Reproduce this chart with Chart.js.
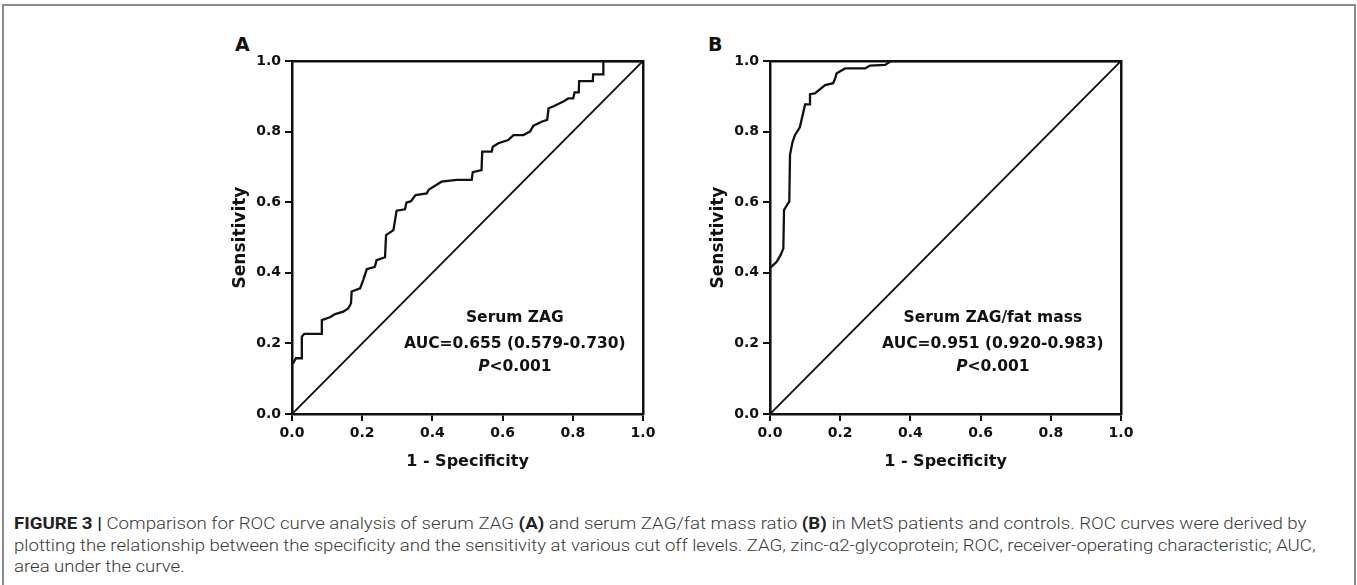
<!DOCTYPE html>
<html>
<head>
<meta charset="utf-8">
<script src="https://cdn.jsdelivr.net/npm/chart.js@4.4.0/dist/chart.umd.min.js"></script>
<style>
html,body{margin:0;padding:0;background:#fff;width:1357px;height:585px;overflow:hidden;position:relative}
.frame{position:absolute;left:2px;top:4px;width:1354px;height:640px;box-sizing:border-box;border:2px solid #8c8c8c}
.wrap{position:absolute;width:435px;height:451px;top:20px}
#wrapA{left:228px}
#wrapB{left:706px}
.panel{position:absolute;font:bold 19px "DejaVu Sans";color:#111;line-height:22px;top:33px}
.cap{position:absolute;left:14px;white-space:nowrap;font-family:Roboto,"Liberation Sans",sans-serif;font-weight:300;font-size:17px;line-height:21.5px;color:#3a3a3a;transform-origin:0 50%}
.cap b{font-weight:700;color:#222}
</style>
</head>
<body>
<div class="frame"></div>
<div class="panel" style="left:235px">A</div>
<div class="panel" style="left:708px">B</div>
<div class="wrap" id="wrapA"><canvas id="chartA" width="435" height="451"></canvas></div>
<div class="wrap" id="wrapB"><canvas id="chartB" width="435" height="451"></canvas></div>
<div class="cap" id="cap1" style="top:513px"><b>FIGURE 3 |</b> Comparison for ROC curve analysis of serum ZAG <b>(A)</b> and serum ZAG/fat mass ratio <b>(B)</b> in MetS patients and controls. ROC curves were derived by</div>
<div class="cap" id="cap2" style="top:535px">plotting the relationship between the specificity and the sensitivity at various cut off levels. ZAG, zinc-α2-glycoprotein; ROC, receiver-operating characteristic; AUC,</div>
<div class="cap" id="cap3" style="top:556px">area under the curve.</div>
<script>
// ---- data ----
const tickValues = [0, 0.2, 0.4, 0.6, 0.8, 1.0];
const tickLabels = ['0.0', '0.2', '0.4', '0.6', '0.8', '1.0'];
const xTitle = '1 - Specificity';
const yTitle = 'Sensitivity';

// Panel A: serum ZAG ROC curve (1 - specificity, sensitivity)
const rocA_x = [0, 0, 0.004, 0.011, 0.026, 0.028, 0.035, 0.083, 0.085, 0.108, 0.123, 0.146, 0.160, 0.168, 0.170, 0.194, 0.203, 0.213, 0.236, 0.241, 0.265, 0.268, 0.289, 0.298, 0.322, 0.326, 0.339, 0.352, 0.384, 0.390, 0.403, 0.426, 0.469, 0.512, 0.515, 0.540, 0.542, 0.569, 0.572, 0.588, 0.616, 0.631, 0.659, 0.678, 0.688, 0.711, 0.727, 0.731, 0.744, 0.773, 0.787, 0.801, 0.805, 0.817, 0.818, 0.857, 0.858, 0.887, 0.887, 1.0];
const rocA_y = [0, 0.145, 0.145, 0.158, 0.158, 0.219, 0.227, 0.227, 0.266, 0.274, 0.283, 0.290, 0.299, 0.313, 0.347, 0.356, 0.380, 0.410, 0.417, 0.436, 0.444, 0.507, 0.521, 0.576, 0.580, 0.599, 0.603, 0.620, 0.625, 0.636, 0.644, 0.658, 0.663, 0.663, 0.685, 0.691, 0.743, 0.743, 0.757, 0.767, 0.776, 0.790, 0.790, 0.800, 0.817, 0.828, 0.833, 0.866, 0.871, 0.885, 0.894, 0.894, 0.911, 0.911, 0.943, 0.943, 0.962, 0.962, 1.0, 1.0];

// Panel B: serum ZAG/fat mass ROC curve
const rocB_x = [0, 0, 0.019, 0.030, 0.038, 0.040, 0.052, 0.055, 0.057, 0.064, 0.071, 0.085, 0.100, 0.114, 0.114, 0.128, 0.157, 0.180, 0.185, 0.190, 0.214, 0.271, 0.285, 0.328, 0.345, 1.0];
const rocB_y = [0, 0.413, 0.431, 0.450, 0.469, 0.578, 0.598, 0.601, 0.734, 0.770, 0.790, 0.812, 0.877, 0.877, 0.906, 0.908, 0.932, 0.937, 0.949, 0.965, 0.979, 0.979, 0.987, 0.989, 1.0, 1.0];

// Reference (chance) line
const diag_x = [0, 1];
const diag_y = [0, 1];

// Annotation texts: each line is a list of [text, italic]
const annotA = [[['Serum ZAG', false]], [['AUC=0.655 (0.579-0.730)', false]], [['P', true], ['<0.001', false]]];
const annotB = [[['Serum ZAG/fat mass', false]], [['AUC=0.951 (0.920-0.983)', false]], [['P', true], ['<0.001', false]]];

// ---- drawing ----
const FONT = '"DejaVu Sans", sans-serif';
const INK = '#111';

const annotPlugin = {
  id: 'annot',
  afterDatasetsDraw(chart, args, opts) {
    const ctx = chart.ctx;
    const xs = chart.scales.x, ys = chart.scales.y;
    ctx.save();
    ctx.fillStyle = INK;
    ctx.textBaseline = 'middle';
    ctx.textAlign = 'left';
    const cx = xs.getPixelForValue(opts.cx);
    opts.lines.forEach((line, i) => {
      const py = ys.getPixelForValue(opts.ys[i]);
      let total = 0;
      const parts = line.map(([t, it]) => {
        ctx.font = (it ? 'italic ' : '') + 'bold ' + opts.size + 'px ' + FONT;
        const w = ctx.measureText(t).width;
        total += w;
        return { t, it, w };
      });
      let x = cx - total / 2;
      parts.forEach(p => {
        ctx.font = (p.it ? 'italic ' : '') + 'bold ' + opts.size + 'px ' + FONT;
        ctx.fillText(p.t, x, py);
        x += p.w;
      });
    });
    ctx.restore();
  }
};

function toPoints(xs, ys) { return xs.map((x, i) => ({ x: x, y: ys[i] })); }

function frameAxis(pos, size) {
  return {
    type: 'linear', position: pos, min: 0, max: 1,
    ticks: { display: false },
    grid: { display: false },
    border: { display: true, color: INK, width: 2.5 },
    afterFit: s => { if (pos === 'top') s.height = size; else s.width = size; }
  };
}

function makeChart(id, rx, ry, annot) {
  return new Chart(document.getElementById(id), {
    type: 'line',
    data: {
      datasets: [
        { data: toPoints(rx, ry), borderColor: INK, borderWidth: 2.3, pointRadius: 0, tension: 0, fill: false, xAxisID: 'x', yAxisID: 'y' },
        { data: toPoints(diag_x, diag_y), borderColor: INK, borderWidth: 1.9, pointRadius: 0, tension: 0, fill: false, xAxisID: 'x', yAxisID: 'y' }
      ]
    },
    options: {
      responsive: false,
      animation: false,
      devicePixelRatio: 1,
      layout: { padding: 0 },
      plugins: {
        legend: { display: false },
        tooltip: { enabled: false },
        annot: { cx: 0.635, ys: [0.272, 0.198, 0.133], size: 15.5, lines: annot }
      },
      scales: {
        x: {
          type: 'linear', position: 'bottom', min: 0, max: 1,
          afterBuildTicks: s => { s.ticks = tickValues.map(v => ({ value: v })); },
          ticks: { callback: (v, i) => tickLabels[i], font: { family: FONT, size: 14, weight: 'bold' }, color: INK, padding: 4, maxRotation: 0, autoSkip: false },
          grid: { display: true, drawOnChartArea: false, drawTicks: true, tickLength: 7, tickColor: INK, tickWidth: 2, color: INK, lineWidth: 2 },
          border: { display: true, color: INK, width: 2.5 },
          title: { display: true, text: xTitle, font: { family: FONT, size: 16, weight: 'bold' }, color: INK, padding: { top: 0, bottom: 0 } },
          afterFit: s => { s.height = 57; }
        },
        y: {
          type: 'linear', position: 'left', min: 0, max: 1,
          afterBuildTicks: s => { s.ticks = tickValues.map(v => ({ value: v })); },
          ticks: { callback: (v, i) => tickLabels[i], font: { family: FONT, size: 14, weight: 'bold' }, color: INK, padding: 4, autoSkip: false },
          grid: { display: true, drawOnChartArea: false, drawTicks: true, tickLength: 7, tickColor: INK, tickWidth: 2, color: INK, lineWidth: 2 },
          border: { display: true, color: INK, width: 2.5 },
          title: { display: true, text: yTitle, font: { family: FONT, size: 17, weight: 'bold' }, color: INK, padding: { top: 2, bottom: 0 } },
          afterFit: s => { s.width = 64; }
        },
        x2: frameAxis('top', 41),
        y2: frameAxis('right', 20)
      }
    },
    plugins: [annotPlugin]
  });
}

makeChart('chartA', rocA_x, rocA_y, annotA);
makeChart('chartB', rocB_x, rocB_y, annotB);

function fitCaption() {
  const c1 = document.getElementById('cap1'), c2 = document.getElementById('cap2'), c3 = document.getElementById('cap3');
  [c1, c2, c3].forEach(el => el.style.transform = 'none');
  const s1 = (1307 - 14) / c1.offsetWidth;
  const s2 = (1315 - 14) / c2.offsetWidth;
  c1.style.transform = 'scaleX(' + s1 + ')';
  c2.style.transform = 'scaleX(' + s2 + ')';
  c3.style.transform = 'scaleX(' + s2 + ')';
}
fitCaption();
if (document.fonts && document.fonts.ready) document.fonts.ready.then(fitCaption);
</script>
</body>
</html>
